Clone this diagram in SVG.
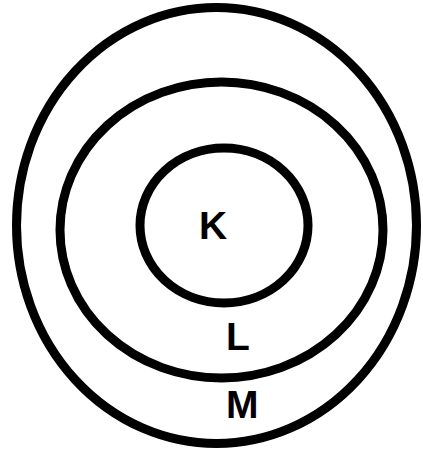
<svg xmlns="http://www.w3.org/2000/svg" width="423" height="450" viewBox="0 0 423 450">
<style>
.shell{fill:none;stroke:#000;stroke-width:9}
.lbl{font-family:"Liberation Sans",Arial,sans-serif;font-weight:bold;font-size:39px;fill:#000}
</style>
<rect width="423" height="450" fill="#fff"/>
<g id="shell-M"><ellipse class="shell" cx="216.5" cy="225.5" rx="200" ry="218"/></g>
<g id="shell-L"><ellipse class="shell" cx="221.5" cy="230" rx="161.5" ry="148"/></g>
<g id="shell-K"><ellipse class="shell" cx="224" cy="225.5" rx="84" ry="77.5"/></g>
<g id="labels">
<text class="lbl" x="199" y="239">K</text>
<text class="lbl" x="226" y="350">L</text>
<text class="lbl" x="226" y="418">M</text>
</g>
<g id="connectors"/>
</svg>
